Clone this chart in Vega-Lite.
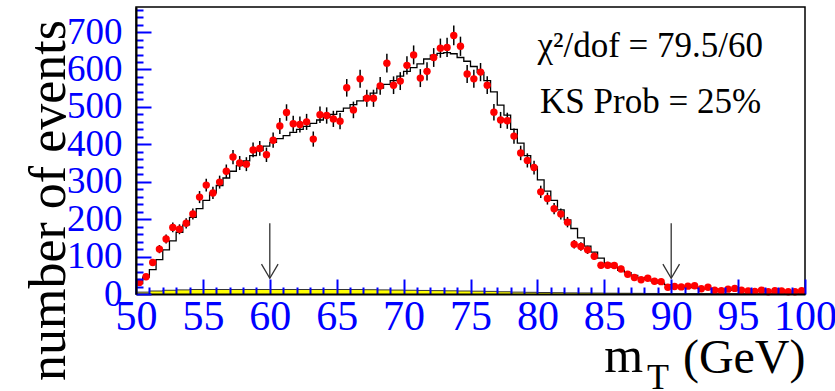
{
  "$schema": "https://vega.github.io/schema/vega-lite/v6.json",
  "width": 669,
  "height": 287,
  "autosize": {"type": "none"},
  "padding": {"left": 136, "top": 7, "right": 30, "bottom": 97},
  "background": "white",
  "config": {"view": {"stroke": "black", "strokeWidth": 1.5}, "font": "Liberation Serif"},
  "datasets": {
    "pts": [
      {"m":50.25,"n":31,"e":5.6},{"m":50.75,"n":46,"e":6.8},{"m":51.25,"n":84,"e":9.2},{"m":51.75,"n":120,"e":11},
      {"m":52.25,"n":147,"e":12.1},{"m":52.75,"n":178,"e":13.3},{"m":53.25,"n":173,"e":13.2},{"m":53.75,"n":189,"e":13.7},
      {"m":54.25,"n":214,"e":14.6},{"m":54.75,"n":259,"e":16.1},{"m":55.25,"n":291,"e":17.1},{"m":55.75,"n":270,"e":16.4},
      {"m":56.25,"n":299,"e":17.3},{"m":56.75,"n":328,"e":18.1},{"m":57.25,"n":366,"e":19.1},{"m":57.75,"n":350,"e":18.7},
      {"m":58.25,"n":347,"e":18.6},{"m":58.75,"n":385,"e":19.6},{"m":59.25,"n":389,"e":19.7},{"m":59.75,"n":372,"e":19.3},
      {"m":60.25,"n":411,"e":20.3},{"m":60.75,"n":449,"e":21.2},{"m":61.25,"n":485,"e":22},{"m":61.75,"n":455,"e":21.3},
      {"m":62.25,"n":453,"e":21.3},{"m":62.75,"n":460,"e":21.4},{"m":63.25,"n":414,"e":20.3},{"m":63.75,"n":479,"e":21.9},
      {"m":64.25,"n":477,"e":21.8},{"m":64.75,"n":468,"e":21.6},{"m":65.25,"n":462,"e":21.5},{"m":65.75,"n":551,"e":23.5},
      {"m":66.25,"n":492,"e":22.2},{"m":66.75,"n":575,"e":24},{"m":67.25,"n":523,"e":22.9},{"m":67.75,"n":523,"e":22.9},
      {"m":68.25,"n":556,"e":23.6},{"m":68.75,"n":617,"e":24.8},{"m":69.25,"n":558,"e":23.6},{"m":69.75,"n":569,"e":23.9},
      {"m":70.25,"n":611,"e":24.7},{"m":70.75,"n":639,"e":25.3},{"m":71.25,"n":577,"e":24},{"m":71.75,"n":595,"e":24.4},
      {"m":72.25,"n":632,"e":25.1},{"m":72.75,"n":657,"e":25.6},{"m":73.25,"n":659,"e":25.7},{"m":73.75,"n":691,"e":26.3},
      {"m":74.25,"n":662,"e":25.7},{"m":74.75,"n":588,"e":24.2},{"m":75.25,"n":575,"e":24},{"m":75.75,"n":593,"e":24.4},
      {"m":76.25,"n":558,"e":23.6},{"m":76.75,"n":486,"e":22},{"m":77.25,"n":465,"e":21.6},{"m":77.75,"n":463,"e":21.5},
      {"m":78.25,"n":422,"e":20.5},{"m":78.75,"n":377,"e":19.4},{"m":79.25,"n":357,"e":18.9},{"m":79.75,"n":338,"e":18.4},
      {"m":80.25,"n":273,"e":16.5},{"m":80.75,"n":255,"e":16},{"m":81.25,"n":228,"e":15.1},{"m":81.75,"n":214,"e":14.6},
      {"m":82.25,"n":192,"e":13.9},{"m":82.75,"n":133,"e":11.5},{"m":83.25,"n":127,"e":11.3},{"m":83.75,"n":118,"e":10.9},
      {"m":84.25,"n":101,"e":10},{"m":84.75,"n":77,"e":8.8},{"m":85.25,"n":77,"e":8.8},{"m":85.75,"n":76,"e":8.7},
      {"m":86.25,"n":67,"e":8.2},{"m":86.75,"n":53,"e":7.3},{"m":87.25,"n":44,"e":6.6},{"m":87.75,"n":38,"e":6.2},
      {"m":88.25,"n":42,"e":6.5},{"m":88.75,"n":34,"e":5.8},{"m":89.25,"n":33,"e":5.7},{"m":89.75,"n":18,"e":4.2},
      {"m":90.25,"n":20,"e":4.5},{"m":90.75,"n":19,"e":4.4},{"m":91.25,"n":21,"e":4.6},{"m":91.75,"n":22,"e":4.7},
      {"m":92.25,"n":14,"e":3.7},{"m":92.75,"n":18,"e":4.2},{"m":93.25,"n":10,"e":3.2},{"m":93.75,"n":9,"e":3},
      {"m":94.25,"n":13,"e":3.6},{"m":94.75,"n":15,"e":3.9},{"m":95.25,"n":10,"e":3.2},{"m":95.75,"n":8,"e":2.8},
      {"m":96.25,"n":7,"e":2.6},{"m":96.75,"n":10,"e":3.2},{"m":97.25,"n":6,"e":2.4},{"m":97.75,"n":9,"e":3},
      {"m":98.25,"n":8,"e":2.8},{"m":98.75,"n":6,"e":2.4},{"m":99.25,"n":6,"e":2.4},{"m":99.75,"n":9,"e":3}
    ],
    "mc": [
      {"m":50.0,"v":28},{"m":50.5,"v":45},{"m":51.0,"v":65},{"m":51.5,"v":92},{"m":52.0,"v":118},{"m":52.5,"v":142},
      {"m":53.0,"v":165},{"m":53.5,"v":185},{"m":54.0,"v":205},{"m":54.5,"v":228},{"m":55.0,"v":250},{"m":55.5,"v":270},
      {"m":56.0,"v":290},{"m":56.5,"v":310},{"m":57.0,"v":328},{"m":57.5,"v":343},{"m":58.0,"v":356},{"m":58.5,"v":370},
      {"m":59.0,"v":383},{"m":59.5,"v":395},{"m":60.0,"v":405},{"m":60.5,"v":415},{"m":61.0,"v":423},{"m":61.5,"v":432},
      {"m":62.0,"v":440},{"m":62.5,"v":448},{"m":63.0,"v":456},{"m":63.5,"v":465},{"m":64.0,"v":472},{"m":64.5,"v":480},
      {"m":65.0,"v":488},{"m":65.5,"v":497},{"m":66.0,"v":506},{"m":66.5,"v":516},{"m":67.0,"v":527},{"m":67.5,"v":537},
      {"m":68.0,"v":550},{"m":68.5,"v":560},{"m":69.0,"v":570},{"m":69.5,"v":582},{"m":70.0,"v":595},{"m":70.5,"v":605},
      {"m":71.0,"v":615},{"m":71.5,"v":628},{"m":72.0,"v":638},{"m":72.5,"v":643},{"m":73.0,"v":645},{"m":73.5,"v":642},
      {"m":74.0,"v":632},{"m":74.5,"v":622},{"m":75.0,"v":608},{"m":75.5,"v":592},{"m":76.0,"v":570},{"m":76.5,"v":540},
      {"m":77.0,"v":505},{"m":77.5,"v":478},{"m":78.0,"v":440},{"m":78.5,"v":403},{"m":79.0,"v":370},{"m":79.5,"v":340},
      {"m":80.0,"v":305},{"m":80.5,"v":275},{"m":81.0,"v":250},{"m":81.5,"v":225},{"m":82.0,"v":198},{"m":82.5,"v":175},
      {"m":83.0,"v":150},{"m":83.5,"v":128},{"m":84.0,"v":112},{"m":84.5,"v":96},{"m":85.0,"v":82},{"m":85.5,"v":72},
      {"m":86.0,"v":63},{"m":86.5,"v":57},{"m":87.0,"v":50},{"m":87.5,"v":44},{"m":88.0,"v":39},{"m":88.5,"v":34},
      {"m":89.0,"v":29},{"m":89.5,"v":25},{"m":90.0,"v":22},{"m":90.5,"v":20},{"m":91.0,"v":18},{"m":91.5,"v":17},
      {"m":92.0,"v":15},{"m":92.5,"v":14},{"m":93.0,"v":13},{"m":93.5,"v":12},{"m":94.0,"v":11},{"m":94.5,"v":10},
      {"m":95.0,"v":9},{"m":95.5,"v":9},{"m":96.0,"v":8},{"m":96.5,"v":8},{"m":97.0,"v":7},{"m":97.5,"v":7},
      {"m":98.0,"v":7},{"m":98.5,"v":6},{"m":99.0,"v":6},{"m":99.5,"v":6},{"m":100.0,"v":6}
    ],
    "bkg": [
      {"m":50,"b":5},{"m":51,"b":8},{"m":52,"b":10},{"m":53,"b":11},{"m":54,"b":12},{"m":55,"b":12},{"m":56,"b":12},
      {"m":57,"b":12},{"m":58,"b":12},{"m":59,"b":12},{"m":60,"b":12},{"m":61,"b":12},{"m":62,"b":12},{"m":63,"b":12},
      {"m":64,"b":12},{"m":65,"b":12},{"m":66,"b":12},{"m":67,"b":11.5},{"m":68,"b":11},{"m":69,"b":10.5},{"m":70,"b":10},
      {"m":71,"b":9.5},{"m":72,"b":9},{"m":73,"b":8.5},{"m":74,"b":8},{"m":75,"b":7.5},{"m":76,"b":7},{"m":77,"b":6},
      {"m":78,"b":5},{"m":79,"b":4.5},{"m":80,"b":4},{"m":81,"b":3.5},{"m":82,"b":3},{"m":83,"b":2.8},{"m":84,"b":2.5},
      {"m":85,"b":2.2},{"m":86,"b":2},{"m":87,"b":1.8},{"m":88,"b":1.5},{"m":89,"b":1.2},{"m":90,"b":1},{"m":92,"b":0.8},
      {"m":94,"b":0.6},{"m":96,"b":0.5},{"m":98,"b":0.4},{"m":100,"b":0.3}
    ],
    "arrows": [
      {"m":60,"top":189,"tip":42},{"m":90,"top":189,"tip":42}
    ]
  },
  "layer": [
    {
      "data": {"name": "bkg"},
      "mark": {"type": "area", "interpolate": "step-after", "color": "#ffff00", "opacity": 1},
      "encoding": {
        "x": {"field": "m", "type": "quantitative", "scale": {"domain": [50, 100], "nice": false, "zero": false},
          "axis": {"orient": "bottom", "values": [51,52,53,54,56,57,58,59,61,62,63,64,66,67,68,69,71,72,73,74,76,77,78,79,81,82,83,84,86,87,88,89,91,92,93,94,96,97,98,99],
            "tickSize": -7, "tickColor": "blue", "tickWidth": 2, "labels": false, "domain": false, "title": null, "grid": false, "zindex": 1}},
        "y": {"field": "b", "type": "quantitative", "scale": {"domain": [0, 767], "nice": false},
          "axis": {"orient": "left", "values": [20,40,60,80,120,140,160,180,220,240,260,280,320,340,360,380,420,440,460,480,520,540,560,580,620,640,660,680,720,740,760],
            "tickSize": -7, "tickColor": "blue", "tickWidth": 2, "labels": false, "domain": false, "title": null, "grid": false, "zindex": 1}}
      }
    },
    {
      "data": {"name": "bkg"},
      "mark": {"type": "line", "interpolate": "step-after", "color": "#333333", "strokeWidth": 1},
      "encoding": {
        "x": {"field": "m", "type": "quantitative", "scale": {"domain": [50, 100], "nice": false, "zero": false}, "axis": null},
        "y": {"field": "b", "type": "quantitative", "scale": {"domain": [0, 767], "nice": false}, "axis": null}
      }
    },
    {
      "data": {"name": "mc"},
      "mark": {"type": "line", "interpolate": "step-after", "color": "black", "strokeWidth": 1.3},
      "encoding": {
        "x": {"field": "m", "type": "quantitative", "scale": {"domain": [50, 100], "nice": false, "zero": false},
          "axis": {"orient": "bottom", "values": [50,55,60,65,70,75,80,85,90,95,100], "tickSize": -15, "tickColor": "blue", "tickWidth": 2,
            "domainColor": "black", "domainWidth": 2, "labelColor": "blue", "labelFont": "Liberation Serif", "labelFontSize": 42,
            "labelPadding": 17, "labelBaseline": "top", "labelFlush": false, "labelOverlap": false, "grid": false, "zindex": 1,
            "title": "(GeV)", "titleFont": "Liberation Serif", "titleFontSize": 48, "titleFontWeight": "normal", "titleColor": "black",
            "titleAnchor": "end", "titleAlign": "right", "titleBaseline": "alphabetic", "titleX": 669, "titleY": 78}},
        "y": {"field": "v", "type": "quantitative", "scale": {"domain": [0, 767], "nice": false},
          "axis": {"orient": "left", "values": [0,100,200,300,400,500,600,700], "tickSize": -15, "tickColor": "blue", "tickWidth": 2,
            "domainColor": "black", "domainWidth": 2, "labelColor": "blue", "labelFont": "Liberation Serif", "labelFontSize": 37,
            "labelPadding": 29, "labelBaseline": "middle", "labelFlush": false, "labelOverlap": false, "grid": false, "zindex": 1,
            "title": "number of events", "titleFont": "Liberation Serif", "titleFontSize": 52, "titleFontWeight": "normal", "titleColor": "black",
            "titleAngle": -90, "titleAlign": "center", "titleBaseline": "alphabetic", "titleX": -72, "titleY": 193}}
      }
    },
    {
      "data": {"name": "pts"},
      "mark": {"type": "errorbar", "color": "black", "thickness": 1.5},
      "encoding": {
        "x": {"field": "m", "type": "quantitative", "scale": {"domain": [50, 100], "nice": false, "zero": false}, "axis": null},
        "y": {"field": "n", "type": "quantitative", "scale": {"domain": [0, 767], "nice": false}, "axis": null},
        "yError": {"field": "e"}
      }
    },
    {
      "data": {"name": "pts"},
      "mark": {"type": "circle", "color": "#ff0000", "size": 55, "opacity": 1},
      "encoding": {
        "x": {"field": "m", "type": "quantitative", "scale": {"domain": [50, 100], "nice": false, "zero": false}, "axis": null},
        "y": {"field": "n", "type": "quantitative", "scale": {"domain": [0, 767], "nice": false}, "axis": null}
      }
    },
    {
      "data": {"name": "arrows"},
      "mark": {"type": "rule", "color": "#333333", "strokeWidth": 1.3},
      "encoding": {
        "x": {"field": "m", "type": "quantitative", "scale": {"domain": [50, 100], "nice": false, "zero": false}, "axis": null},
        "y": {"field": "top", "type": "quantitative", "scale": {"domain": [0, 767], "nice": false}, "axis": null},
        "y2": {"field": "tip"}
      }
    },
    {
      "data": {"name": "arrows"},
      "mark": {"type": "point", "shape": "M-1,-1.7L0,0L1,-1.7", "filled": false, "size": 276, "stroke": "#333333", "strokeWidth": 1.3, "opacity": 1},
      "encoding": {
        "x": {"field": "m", "type": "quantitative", "scale": {"domain": [50, 100], "nice": false, "zero": false}, "axis": null},
        "y": {"field": "tip", "type": "quantitative", "scale": {"domain": [0, 767], "nice": false}, "axis": null}
      }
    },
    {
      "data": {"values": [{"x": 80.0, "y": 633, "t": "χ²/dof = 79.5/60"}, {"x": 80.2, "y": 483, "t": "KS Prob = 25%"}]},
      "mark": {"type": "text", "align": "left", "baseline": "alphabetic", "font": "Liberation Serif", "fontSize": 35, "color": "black"},
      "encoding": {
        "x": {"field": "x", "type": "quantitative", "scale": {"domain": [50, 100], "nice": false, "zero": false}, "axis": null},
        "y": {"field": "y", "type": "quantitative", "scale": {"domain": [0, 767], "nice": false}, "axis": null},
        "text": {"field": "t"}
      }
    },
    {
      "data": {"values": [{"x": 85.0, "y": -209, "t": "m"}]},
      "mark": {"type": "text", "align": "left", "baseline": "alphabetic", "font": "Liberation Serif", "fontSize": 50, "color": "black", "clip": false},
      "encoding": {
        "x": {"field": "x", "type": "quantitative", "scale": {"domain": [50, 100], "nice": false, "zero": false}, "axis": null},
        "y": {"field": "y", "type": "quantitative", "scale": {"domain": [0, 767], "nice": false}, "axis": null},
        "text": {"field": "t"}
      }
    },
    {
      "data": {"values": [{"x": 88.2, "y": -255, "t": "T"}]},
      "mark": {"type": "text", "align": "left", "baseline": "alphabetic", "font": "Liberation Serif", "fontSize": 36, "color": "black", "clip": false},
      "encoding": {
        "x": {"field": "x", "type": "quantitative", "scale": {"domain": [50, 100], "nice": false, "zero": false}, "axis": null},
        "y": {"field": "y", "type": "quantitative", "scale": {"domain": [0, 767], "nice": false}, "axis": null},
        "text": {"field": "t"}
      }
    }
  ],
  "resolve": {"axis": {"x": "independent", "y": "independent"}}
}
